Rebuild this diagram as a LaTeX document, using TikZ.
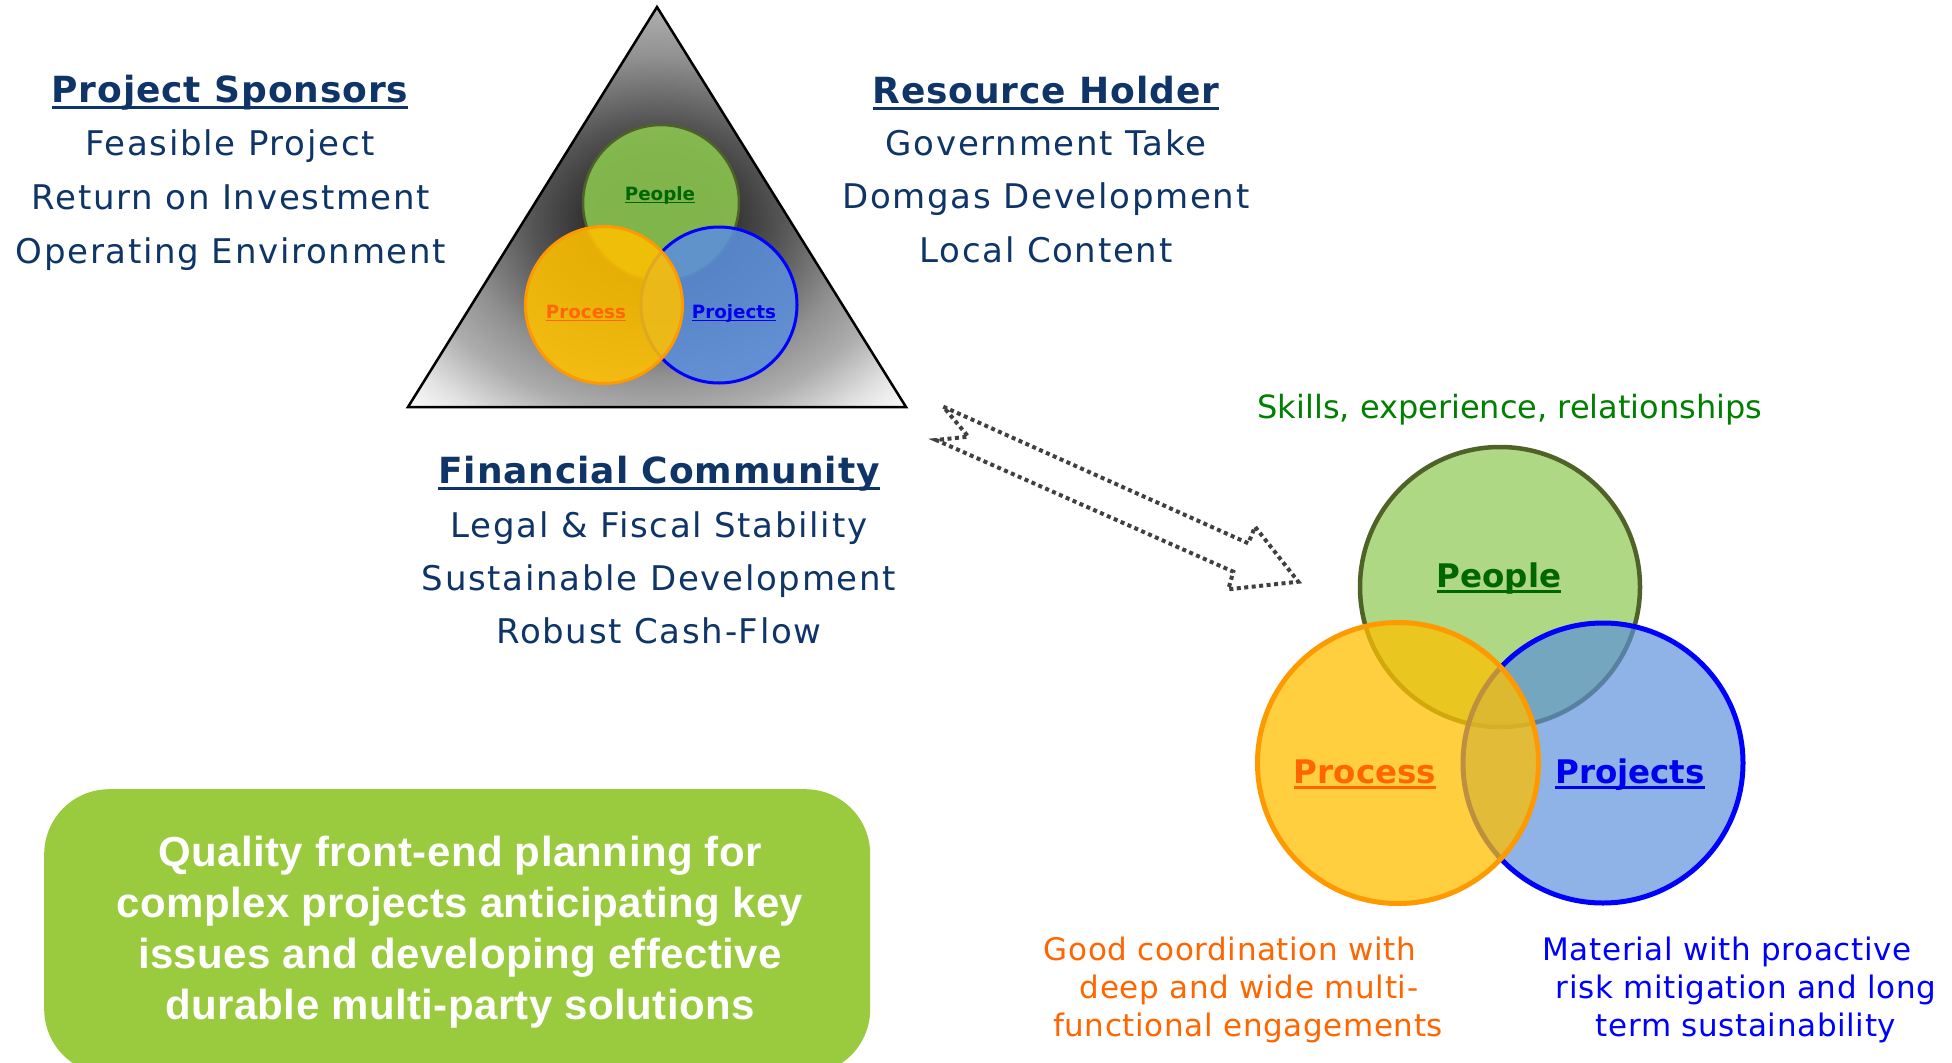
\documentclass[tikz,border=0pt]{standalone}
\usepackage{fontspec}
\setmainfont{DejaVu Sans}
\newfontfamily\vbold[LetterSpace=2.5]{DejaVu Sans Bold}
\newfontfamily\vbody[LetterSpace=5]{DejaVu Sans}
\newfontfamily\vnote[LetterSpace=2]{DejaVu Sans}
\newfontfamily\vplain{DejaVu Sans}
\newfontfamily\vlabel{DejaVu Sans Bold}
\newfontfamily\boxfont[LetterSpace=1]{Liberation Sans Bold}

% office-style underline: fixed offset below the baseline, crossing descenders
\newcommand\offul[1]{\setbox0\hbox{#1}\rlap{\rule[-0.19em]{\wd0}{0.085em}}\box0}

\definecolor{navy}{RGB}{14,52,104}
\definecolor{skillgreen}{RGB}{0,128,0}
\definecolor{noteorange}{RGB}{255,102,0}
\definecolor{noteblue}{RGB}{0,0,255}
\definecolor{peoplefill}{RGB}{140,200,80}
\definecolor{peopleline}{RGB}{79,98,40}
\definecolor{peopletext}{RGB}{0,102,0}
\definecolor{processfill}{RGB}{255,192,0}
\definecolor{processline}{RGB}{255,153,0}
\definecolor{processtext}{RGB}{255,102,0}
\definecolor{projectsfill}{RGB}{91,143,219}
\definecolor{projectsline}{RGB}{0,0,255}
\definecolor{projectstext}{RGB}{0,0,238}
\definecolor{boxgreen}{RGB}{154,202,62}
\definecolor{arrowgrey}{RGB}{64,64,64}
\definecolor{triA}{RGB}{48,48,48}
\definecolor{triB}{RGB}{52,52,52}
\definecolor{triC}{RGB}{85,85,85}
\definecolor{triD}{RGB}{145,145,145}
\definecolor{triE}{RGB}{172,172,172}
\definecolor{triF}{RGB}{226,226,226}
\definecolor{triG}{RGB}{244,244,244}
\definecolor{triH}{RGB}{248,248,248}

\pgfdeclareradialshading{trishade}{\pgfpoint{0bp}{-2.5bp}}{%
  color(0bp)=(triA); color(7.5bp)=(triB); color(12.5bp)=(triC);
  color(20bp)=(triD); color(25bp)=(triE); color(31bp)=(triF);
  color(34bp)=(triG); color(36bp)=(triH)}

\tikzset{
  head/.style={anchor=base, inner sep=0pt, text=navy, font=\vbold\fontsize{36}{42}\selectfont},
  body/.style={anchor=base, inner sep=0pt, text=navy, font=\vbody\fontsize{34}{40}\selectfont},
  note/.style={anchor=base, inner sep=0pt, font=\vnote\fontsize{31}{36}\selectfont},
  plantext/.style={anchor=base, inner sep=0pt, text=white, font=\boxfont\fontsize{42}{48}\selectfont},
  smalllabel/.style={anchor=base, inner sep=0pt, font=\vlabel\fontsize{18.3}{22}\selectfont},
  biglabel/.style={anchor=base, inner sep=0pt, font=\vlabel\fontsize{32.5}{38}\selectfont},
  venn/.style={circle, inner sep=0pt, fill opacity=#1, draw opacity=1},
  arrowline/.style={draw=arrowgrey, line width=4pt, dash pattern=on 4pt off 3.5pt}
}

\begin{document}
\begin{tikzpicture}[x=1pt, y=-1pt]
\useasboundingbox (0,0) rectangle (1952,1063);
\fill[white] (0,0) rectangle (1952,1063);

% stakeholder triangle
\draw[shading=trishade, line width=2.5pt, line join=miter]
  (657,7) -- (906,407) -- (408,407) -- cycle;

% small Venn inside the triangle
\node[venn=0.88, fill=peoplefill, draw=peopleline, line width=2.5pt, minimum size=156pt] (sPeople) at (661,203) {};
\node[venn=0.88, fill=projectsfill, draw=projectsline, line width=3pt, minimum size=156pt] (sProjects) at (719,305) {};
\node[venn=0.88, fill=processfill, draw=processline, line width=3pt, minimum size=157pt] (sProcess) at (604,305) {};
\node[smalllabel, text=peopletext] (sPeopleT) at (660,200) {\offul{People}};
\node[smalllabel, text=processtext] (sProcessT) at (586,318) {\offul{Process}};
\node[smalllabel, text=projectstext] (sProjectsT) at (734,318) {\offul{Projects}};

% Project Sponsors
\node[head] (ps0) at (230,102) {\offul{Project Sponsors}};
\node[body] (ps1) at (230,155) {Feasible Project};
\node[body] (ps2) at (231,209) {Return on Investment};
\node[body] (ps3) at (231,263) {Operating Environment};

% Resource Holder
\node[head] (rh0) at (1046,103) {\offul{Resource Holder}};
\node[body] (rh1) at (1046,155) {Government Take};
\node[body] (rh2) at (1046,208) {Domgas Development};
\node[body] (rh3) at (1046,262) {Local Content};

% Financial Community
\node[head] (fc0) at (659,483) {\offul{Financial Community}};
\node[body] (fc1) at (659,537) {Legal \& Fiscal Stability};
\node[body] (fc2) at (659,590) {Sustainable Development};
\node[body] (fc3) at (659,643) {Robust Cash-Flow};

% hollow dotted block arrow
\draw[arrowline] (943.3,406.7) -- (1248.3,543.3) -- (1255,526.7) -- (1298.3,581.7)
  -- (1228.3,589.3) -- (1233.3,571.7) -- (936,440) -- (968.3,436.7) -- cycle;

% large Venn
\node[anchor=base, inner sep=0pt, text=skillgreen, font=\vplain\fontsize{32}{38}\selectfont] (skills) at (1510,418) {Skills, experience, relationships};
\node[venn=0.7, fill=peoplefill, draw=peopleline, line width=4.5pt, minimum size=280pt] (bPeople) at (1500,587) {};
\node[venn=0.68, fill=projectsfill, draw=projectsline, line width=5pt, minimum size=280pt] (bProjects) at (1603,763) {};
\node[venn=0.75, fill=processfill, draw=processline, line width=5pt, minimum size=281pt] (bProcess) at (1398,763) {};
\node[biglabel, text=peopletext] (bPeopleT) at (1499,587) {\offul{People}};
\node[biglabel, text=processtext] (bProcessT) at (1365,783) {\offul{Process}};
\node[biglabel, text=projectstext] (bProjectsT) at (1630,783) {\offul{Projects}};

% notes under the large Venn
\node[note, text=noteorange] (po1) at (1230,960) {Good coordination with};
\node[note, text=noteorange] (po2) at (1249,998) {deep and wide multi-};
\node[note, text=noteorange] (po3) at (1248,1036) {functional engagements};
\node[note, text=noteblue] (pj1) at (1727,960) {Material with proactive};
\node[note, text=noteblue] (pj2) at (1746,998) {risk mitigation and long};
\node[note, text=noteblue] (pj3) at (1746,1036) {term sustainability};

% planning message box
\node[fill=boxgreen, rounded corners=65pt, minimum width=826pt, minimum height=285pt,
      anchor=north west, inner sep=0pt] (plan) at (44,789) {};
\node[plantext] (plan1) at (460,866) {Quality front-end planning for};
\node[plantext] (plan2) at (460,917) {complex projects anticipating key};
\node[plantext] (plan3) at (460,968) {issues and developing effective};
\node[plantext] (plan4) at (460,1019) {durable multi-party solutions};
\end{tikzpicture}
\end{document}
